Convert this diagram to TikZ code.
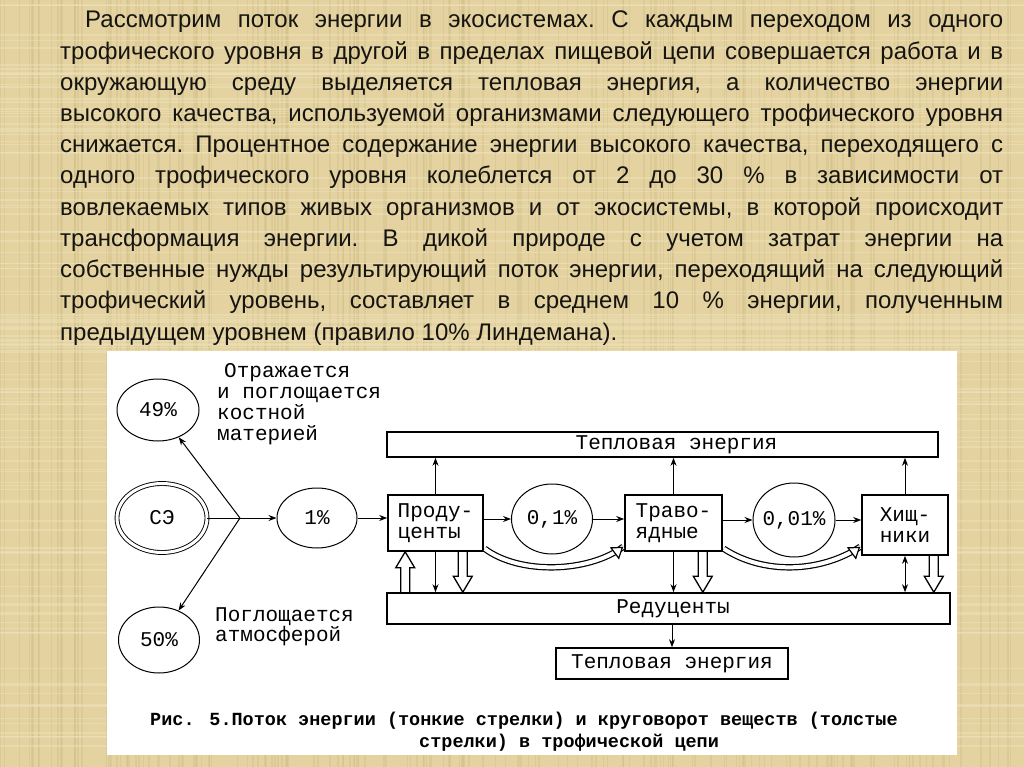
\documentclass[tikz,border=0pt]{standalone}
\usepackage{fontspec}
\setmainfont{Liberation Sans}
\newfontfamily\dmono{Liberation Mono}
\usetikzlibrary{shapes.geometric,arrows.meta,calc}
\definecolor{paper}{RGB}{228,211,160}
\definecolor{paperdark}{RGB}{205,186,132}
\definecolor{paperlight}{RGB}{240,228,190}
\definecolor{ink}{RGB}{22,20,16}
\newcommand\parafont{\frenchspacing\fontsize{24}{31.2}\selectfont}
\newcommand\dfont{\dmono\fontsize{21}{21}\selectfont}
\newcommand\jl[2]{\makebox[#1][s]{#2}}
\newcommand\hollow[2]{%
  \draw[line width=1.3pt] let \p1=(#1), \p2=(#2), \n1={ifthenelse(\y2>\y1,1,-1)} in
    ({\x1-4.5pt},\y1) -- ({\x1-4.5pt},{\y2-(\n1)*16pt}) -- ({\x1-9.5pt},{\y2-(\n1)*16pt}) -- (\x2,\y2)
    -- ({\x1+9.5pt},{\y2-(\n1)*16pt}) -- ({\x1+4.5pt},{\y2-(\n1)*16pt}) -- ({\x1+4.5pt},\y1);}
\begin{document}
\begin{tikzpicture}[x=1pt,y=-1pt,
  box/.style={draw,rectangle,line width=1.6pt,inner sep=0pt,font=\dfont,align=left},
  oval/.style={draw,ellipse,line width=1pt,inner sep=0pt,font=\dfont},
  ln/.style={line width=1pt},
  arr/.style={line width=1pt,-{Stealth[length=8pt,width=6pt]}},
  dblarr/.style={line width=1pt,{Stealth[length=8pt,width=6pt]}-{Stealth[length=8pt,width=6pt]}},
  para/.style={anchor=base west,inner sep=0pt,font=\parafont,text=ink},
  lbl/.style={anchor=base west,inner sep=0pt,font=\dfont},
  capt/.style={anchor=base west,inner sep=0pt,font=\dmono\bfseries\fontsize{18.5}{22}\selectfont},
  fatcurve/.style={double,double distance=4pt,line width=1.2pt},
  fathead/.style={line width=1.2pt,-{Triangle[length=11pt,width=15pt,fill=white]}}
]
\useasboundingbox (0,0) rectangle (1024,767);
\fill[paper] (0,0) rectangle (1024,767);
% faint paper texture
\pgfmathsetseed{7}
\foreach \i in {1,...,170}{
  \pgfmathsetmacro\xx{rnd*1024}
  \pgfmathsetmacro\ww{0.6+rnd*1.6}
  \draw[paperdark,opacity=0.35,line width=\ww pt] (\xx,0) -- (\xx,767);
}
\foreach \i in {1,...,120}{
  \pgfmathsetmacro\yy{rnd*767}
  \pgfmathsetmacro\ww{0.6+rnd*1.6}
  \draw[paperlight,opacity=0.45,line width=\ww pt] (0,\yy) -- (1024,\yy);
}
\fill[white] (107,351) rectangle (957,755);

% paragraph
\node[para] (p1) at (85,28) {\jl{918pt}{Рассмотрим поток энергии в экосистемах. С каждым переходом из одного}};
\node[para] (p2) at (60,59.2) {\jl{943pt}{трофического уровня в другой в пределах пищевой цепи совершается работа и в}};
\node[para] (p3) at (60,90.4) {\jl{943pt}{окружающую среду выделяется тепловая энергия, а количество энергии}};
\node[para] (p4) at (60,121.6) {\jl{943pt}{высокого качества, используемой организмами следующего трофического уровня}};
\node[para] (p5) at (60,152.8) {\jl{943pt}{снижается. Процентное содержание энергии высокого качества, переходящего с}};
\node[para] (p6) at (60,184) {\jl{943pt}{одного трофического уровня колеблется от 2 до 30 \% в зависимости от}};
\node[para] (p7) at (60,215.2) {\jl{943pt}{вовлекаемых типов живых организмов и от экосистемы, в которой происходит}};
\node[para] (p8) at (60,246.4) {\jl{943pt}{трансформация энергии. В дикой природе с учетом затрат энергии на}};
\node[para] (p9) at (60,277.6) {\jl{943pt}{собственные нужды результирующий поток энергии, переходящий на следующий}};
\node[para] (p10) at (60,308.8) {\jl{943pt}{трофический уровень, составляет в среднем 10 \% энергии, полученным}};
\node[para] (p11) at (60,340) {предыдущем уровнем (правило 10\% Линдемана).};

% left part
\node[oval,minimum width=82pt,minimum height=62pt] (c49) at (158,410) {\makebox[0pt]{49\%}};
\node[oval,double,double distance=3pt,line width=0.9pt,minimum width=90pt,minimum height=69pt] (cSE) at (162,518) {\makebox[0pt]{СЭ}};
\node[oval,minimum width=80pt,minimum height=60pt] (c1) at (317,518) {\makebox[0pt]{1\%}};
\node[oval,minimum width=81pt,minimum height=66pt] (c50) at (159,640) {\makebox[0pt]{50\%}};
\coordinate (br) at (240,518);

\node[lbl] (t1) at (217,377) {\hspace*{7pt}Отражается};
\node[lbl] (t2) at (217,398) {и поглощается};
\node[lbl] (t3) at (217,419) {костной};
\node[lbl] (t4) at (217,440) {материей};
\node[lbl] (t5) at (215,621) {Поглощается};
\node[lbl] (t6) at (215,641) {атмосферой};

% boxes
\node[box,minimum width=551pt,minimum height=25pt] (heat1) at (662.5,444.5) {\raisebox{-3pt}{\hspace*{28pt}Тепловая энергия}};
\node[box,minimum width=95pt,minimum height=56pt] (prod) at (435.5,523) {Проду-\\центы};
\node[oval,minimum width=81pt,minimum height=70pt] (c01) at (552,519) {\makebox[0pt]{0,1\%}};
\node[box,minimum width=97pt,minimum height=56pt] (trav) at (673.5,523) {Траво-\\ядные};
\node[oval,minimum width=82pt,minimum height=74pt] (c001) at (794,520) {\makebox[0pt]{0,01\%}};
\node[box,minimum width=86pt,minimum height=60pt] (pred) at (905,525) {Хищ-\\ники};
\node[box,minimum width=563pt,minimum height=31pt] (red) at (668.5,608.5) {\hspace*{9pt}Редуценты};
\node[box,minimum width=232pt,minimum height=31pt] (heat2) at (672,663.5) {Тепловая энергия};

% thin arrows (energy flow)
\draw[ln] (cSE) -- (br);
\draw[arr] (br) -- (c1);
\draw[arr] (br) -- (c49);
\draw[arr] (br) -- (c50);
\draw[arr] (c1) -- (c1 -| prod.west);
\draw[arr] (c01.west -| prod.east) -- (c01);
\draw[arr] (c01) -- (c01 -| trav.west);
\draw[arr] (c001 -| trav.east) -- (c001);
\draw[arr] (c001) -- (c001 -| pred.west);

\draw[arr] (prod.north) -- (prod.north |- heat1.south);
\draw[arr] (trav.north) -- (trav.north |- heat1.south);
\draw[arr] (pred.north) -- (pred.north |- heat1.south);
\draw[arr] (prod.south) -- (prod.south |- red.north);
\draw[arr] (trav.south) -- (trav.south |- red.north);
\draw[dblarr] (pred.south) -- (pred.south |- red.north);
\draw[arr] (red.south -| heat2.north) -- (heat2.north);

% thick hollow arrows (matter cycle)
\coordinate (u1) at ($(prod.south west)+(18,0)$);
\hollow{u1 |- red.north}{u1}
\coordinate (d1) at ($(prod.south east)+(-21,0)$);
\hollow{d1}{d1 |- red.north}
\coordinate (d2) at ($(trav.south east)+(-20,0)$);
\hollow{d2}{d2 |- red.north}
\coordinate (d3) at ($(pred.south east)+(-15,0)$);
\hollow{d3}{d3 |- red.north}

\coordinate (k1s) at ($(prod.south east)+(1,-3)$);
\coordinate (k1e) at ($(trav.south west)+(-1,-5)$);
\draw[fatcurve] (k1s) .. controls +(35,26) and +(-35,26) .. (k1e);
\draw[fathead] ($(k1e)+(-0.8,0.6)$) -- (k1e);
\coordinate (k2s) at ($(trav.south east)+(1,-3)$);
\coordinate (k2e) at ($(pred.south west)+(-1,-9)$);
\draw[fatcurve] (k2s) .. controls +(40,26) and +(-40,26) .. (k2e);
\draw[fathead] ($(k2e)+(-0.8,0.6)$) -- (k2e);

% caption
\node[capt] (cap1) at (150,725) {Рис. 5.Поток энергии (тонкие стрелки) и круговорот веществ (толстые};
\node[capt] (cap2) at (419,747) {стрелки) в трофической цепи};
\end{tikzpicture}
\end{document}
